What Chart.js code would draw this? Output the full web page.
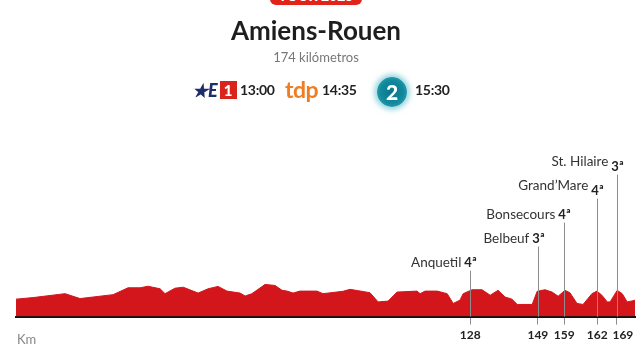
<!DOCTYPE html>
<html>
<head>
<meta charset="utf-8">
<script src="https://cdn.jsdelivr.net/npm/chart.js@4"></script>
<style>
  html, body { margin: 0; padding: 0; background: #fff; }
  body { width: 644px; height: 362px; position: relative; overflow: hidden; font-family: Lato, "Open Sans", sans-serif; }
  #profile { position: absolute; left: 0; top: 0; }
  .abs { position: absolute; white-space: nowrap; }
  .pill { left: 270px; top: -14px; width: 92px; height: 19px; background: #e2231a; border-radius: 6px;
          color: #fff; font-weight: 900; font-size: 14px; line-height: 19px; text-align: center; }
  .title { left: -6px; width: 644px; top: 15px; text-align: center; font-size: 26px; font-weight: 700; color: #1e1e1e; line-height: 30px; }
  .sub { left: -6px; width: 644px; top: 49px; text-align: center; font-size: 13px; color: #777; line-height: 16px; }
  .time { top: 81px; font-size: 14px; font-weight: 700; color: #222; line-height: 18px; letter-spacing: -0.3px; }
  .e1 { left: 192px; top: 81px; height: 18px; font-size: 18px; line-height: 18px; font-weight: 900; color: #1f2d6b; font-style: italic; }
  .e1 .one { display: inline-block; background: #d9241c; color: #fff; font-style: normal; width: 17px; height: 18px;
             text-align: center; font-size: 15px; margin-left: 2px; vertical-align: top; }
  .tdp { left: 285px; top: 76px; font-size: 23px; font-weight: 700; color: #f07d21; line-height: 26px; letter-spacing: -0.5px; }
  .two { left: 377px; top: 77px; width: 30px; height: 30px; border-radius: 50%;
         background: radial-gradient(circle at 50% 50%, #0c7487 0%, #128a9d 55%, #35a9b9 85%, #6cc4cf 100%);
         box-shadow: 0 0 5px 3px rgba(80, 185, 200, 0.55);
         color: #fff; font-weight: 900; font-size: 21px; line-height: 30px; text-align: center; }
  .km { left: 17px; top: 331px; font-size: 13px; color: #888; }
</style>
</head>
<body>
<canvas id="profile" width="644" height="362"></canvas>
<div class="abs pill">TOUR 2025</div>
<div class="abs title">Amiens-Rouen</div>
<div class="abs sub">174 kilómetros</div>
<div class="abs e1">★E<span class="one">1</span></div>
<div class="abs time" style="left:240px">13:00</div>
<div class="abs tdp">tdp</div>
<div class="abs time" style="left:322px">14:35</div>
<div class="abs two">2</div>
<div class="abs time" style="left:415px">15:30</div>
<div class="abs km">Km</div>
<script>
// Profile: distance along the drawn axis (km) and height (m)
const distKm = [0, 4.8, 13.8, 18.0, 27.3, 31.5, 34.9, 37.1, 40.5, 41.9, 44.7, 47.0, 51.2, 54.0, 56.8, 59.3,
  63.0, 64.4, 66.3, 70.0, 72.8, 74.8, 76.2, 77.9, 79.8, 84.6, 86.3, 91.9, 93.9, 99.5, 101.8, 104.6,
  107.1, 112.7, 113.6, 115.0, 118.4, 121.2, 122.9, 124.8, 125.7, 128.2, 131.0, 133.3, 135.5, 137.5,
  139.4, 140.9, 145.1, 146.5, 148.7, 150.7, 152.4, 154.3, 155.7, 157.7, 159.4, 161.9, 163.3, 164.7,
  166.2, 167.0, 169.0, 170.4, 171.8, 173.2, 174];
const elevM = [89, 97, 117, 92, 112, 147, 147, 155, 142, 117, 145, 150, 120, 142, 154, 130,
  120, 105, 117, 164, 159, 134, 130, 120, 130, 130, 117, 129, 139, 122, 75, 79,
  125, 130, 117, 130, 130, 117, 67, 84, 117, 137, 137, 109, 134, 100,
  89, 62, 62, 129, 137, 125, 104, 134, 122, 67, 62, 117, 130, 109,
  75, 75, 134, 117, 75, 80, 84];

// Categorised climbs
const climbNames = ['Anquetil', 'Belbeuf', 'Bonsecours', 'Grand’Mare', 'St. Hilaire'];
const climbCats = ['4ª', '3ª', '4ª', '4ª', '3ª'];
const climbKmLabels = ['128', '149', '159', '162', '169'];
// where the graphic places each climb along its axis
const climbAt = [127.7, 146.7, 154.1, 163.4, 168.9];

const points = distKm.map((d, i) => ({ x: d, y: elevM[i] }));

const climbLabels = {
  id: 'climbLabels',
  afterDatasetsDraw(chart) {
    const { ctx, chartArea, scales } = chart;
    const bottom = chartArea.bottom;
    ctx.save();
    climbAt.forEach((km, i) => {
      const x = Math.round(scales.x.getPixelForValue(km)) + 0.5;
      const yText = bottom - 50 - i * 24;
      // leader line
      ctx.strokeStyle = '#8c8c8c';
      ctx.lineWidth = 1;
      ctx.beginPath();
      ctx.moveTo(x, yText + 4);
      ctx.lineTo(x, bottom);
      ctx.stroke();
      // category
      ctx.fillStyle = '#222';
      ctx.textBaseline = 'alphabetic';
      ctx.font = '700 13px Lato';
      const cw = ctx.measureText(climbCats[i]).width;
      const cx = x - cw / 2;
      ctx.textAlign = 'left';
      ctx.fillText(climbCats[i], cx, yText);
      // name, lifted a little on the crowded right side
      ctx.font = '400 13.5px Lato';
      ctx.fillStyle = '#333';
      ctx.textAlign = 'right';
      ctx.fillText(climbNames[i], cx - 3, yText - (i >= 3 ? 5 : 0));
    });
    ctx.restore();
  }
};

new Chart(document.getElementById('profile'), {
  type: 'line',
  data: {
    datasets: [{
      data: points,
      borderColor: '#d3161c',
      backgroundColor: '#d3161c',
      borderWidth: 1,
      fill: 'origin',
      pointRadius: 0,
      tension: 0
    }]
  },
  options: {
    responsive: false,
    animation: false,
    layout: { padding: { left: 16, right: 9, top: 150, bottom: 17 } },
    plugins: { legend: { display: false }, tooltip: { enabled: false } },
    scales: {
      x: {
        type: 'linear',
        min: 0,
        max: 174,
        afterBuildTicks(axis) {
          axis.ticks = climbAt.map(v => ({ value: v }));
        },
        grid: { drawOnChartArea: false, drawTicks: true, tickLength: 8, color: '#8c8c8c', lineWidth: 1 },
        border: { display: true, color: '#111', width: 2 },
        ticks: {
          autoSkip: false,
          maxRotation: 0,
          padding: 3,
          color: '#222',
          font: { family: 'Lato', size: 12, weight: '700' },
          // the last label is nudged right so it clears its neighbour
          callback(value, index) {
            return index === climbAt.length - 1 ? '\u2002\u2002' + climbKmLabels[index] : climbKmLabels[index];
          }
        }
      },
      y: { display: false, min: 0, max: 850 }
    }
  },
  plugins: [climbLabels]
});
</script>
</body>
</html>
